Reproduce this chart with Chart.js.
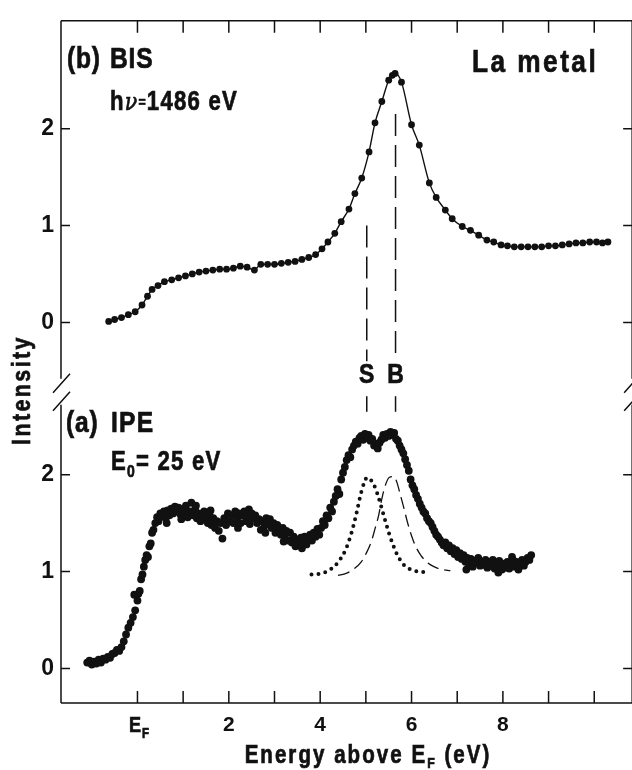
<!DOCTYPE html>
<html>
<head>
<meta charset="utf-8">
<script src="https://cdn.jsdelivr.net/npm/chart.js@4.4.1/dist/chart.umd.min.js"></script>
<style>
  html, body { margin: 0; padding: 0; background: #fff; }
</style>
</head>
<body>
<canvas id="chart" width="632" height="770"></canvas>
<script>
// ---- axes ----
const xTickValues = [0, 1, 2, 3, 4, 5, 6, 7, 8, 9, 10];
const xTickLabels = ['', '', '2', '', '4', '', '6', '', '8', '', ''];   // 0 is E_F, drawn by hand

// both panels share one y axis, BIS is lifted by BIS_OFFSET
const BIS_OFFSET = 3.571;
const yTickValues = [0, 1, 2, BIS_OFFSET, BIS_OFFSET + 1, BIS_OFFSET + 2];
const yTickLabels = ['0', '1', '2', '0', '1', '2'];

// ---- (b) BIS, hv = 1486 eV : [energy, intensity] ----
const bisPoints = [
  [-0.63,0.01],[-0.50,0.03],[-0.35,0.05],[-0.20,0.08],[-0.05,0.11],[0.10,0.18],[0.22,0.27],
  [0.32,0.34],[0.45,0.38],[0.59,0.42],[0.75,0.44],[0.90,0.46],[1.05,0.48],[1.20,0.50],
  [1.35,0.52],[1.50,0.53],[1.65,0.54],[1.80,0.55],[1.95,0.55],[2.10,0.56],[2.25,0.58],
  [2.40,0.57],[2.56,0.54],[2.70,0.60],[2.85,0.60],[3.00,0.60],[3.15,0.61],[3.30,0.62],
  [3.45,0.63],[3.60,0.65],[3.75,0.67],[3.90,0.70],[4.04,0.76],[4.17,0.83],[4.32,0.92],
  [4.46,1.04],[4.63,1.17],[4.76,1.33],[4.91,1.49],[5.07,1.76],[5.20,2.06],[5.35,2.28],
  [5.50,2.50],[5.58,2.55],[5.64,2.57],[5.78,2.48],[6.00,2.04],[6.17,1.83],[6.39,1.44],
  [6.54,1.29],[6.74,1.16],[6.89,1.07],[7.11,0.99],[7.29,0.95],[7.47,0.90],[7.65,0.85],
  [7.80,0.83],[7.96,0.80],[8.10,0.79],[8.25,0.78],[8.40,0.78],[8.55,0.78],[8.70,0.78],
  [8.85,0.78],[9.00,0.79],[9.15,0.79],[9.30,0.80],[9.45,0.81],[9.60,0.82],[9.75,0.82],
  [9.90,0.83],[10.05,0.83],[10.18,0.82],[10.30,0.83]
];

// ---- (a) IPE, E0 = 25 eV : [energy, intensity] ----
const ipePoints = [
  [-1.10,0.06],[-1.05,0.08],[-1.00,0.04],[-0.95,0.07],[-0.90,0.05],[-0.85,0.09],[-0.80,0.06],
  [-0.75,0.10],[-0.70,0.09],[-0.65,0.12],[-0.60,0.11],[-0.55,0.15],[-0.50,0.16],[-0.45,0.19],
  [-0.40,0.18],[-0.35,0.22],[-0.30,0.28],[-0.25,0.35],[-0.20,0.42],[-0.15,0.47],[-0.10,0.53],
  [-0.07,0.76],[-0.05,0.60],[0.00,0.70],[0.02,0.77],[0.05,0.80],[0.08,0.92],[0.11,0.97],
  [0.14,1.05],[0.17,1.12],[0.20,1.17],[0.23,1.15],[0.26,1.26],[0.29,1.29],[0.32,1.40],
  [0.35,1.43],[0.39,1.50],[0.43,1.56],[0.46,1.52],[0.50,1.60],[0.54,1.57],[0.58,1.62],
  [0.62,1.55],[0.64,1.50],[0.66,1.63],[0.70,1.58],[0.74,1.65],[0.78,1.60],[0.82,1.67],
  [0.86,1.62],[0.90,1.66],[0.94,1.59],[0.96,1.54],[0.98,1.64],[1.02,1.60],[1.06,1.68],
  [1.10,1.56],[1.14,1.62],[1.18,1.71],[1.22,1.58],[1.26,1.64],[1.28,1.68],[1.30,1.55],
  [1.34,1.60],[1.38,1.52],[1.42,1.58],[1.46,1.62],[1.50,1.54],[1.54,1.50],[1.58,1.57],
  [1.60,1.63],[1.62,1.48],[1.66,1.55],[1.70,1.45],[1.74,1.52],[1.78,1.42],[1.82,1.50],
  [1.86,1.34],[1.90,1.55],[1.94,1.48],[1.98,1.60],[2.02,1.52],[2.06,1.58],[2.10,1.50],
  [2.14,1.62],[2.18,1.55],[2.20,1.45],[2.22,1.60],[2.26,1.50],[2.30,1.58],[2.34,1.62],
  [2.38,1.52],[2.42,1.57],[2.44,1.64],[2.46,1.49],[2.50,1.60],[2.54,1.55],[2.58,1.58],
  [2.62,1.50],[2.66,1.54],[2.70,1.43],[2.74,1.52],[2.78,1.47],[2.80,1.40],[2.82,1.55],
  [2.86,1.49],[2.90,1.54],[2.94,1.45],[2.98,1.50],[3.02,1.40],[3.06,1.48],[3.10,1.44],
  [3.14,1.38],[3.18,1.45],[3.20,1.31],[3.22,1.36],[3.26,1.42],[3.30,1.32],[3.34,1.40],
  [3.38,1.30],[3.42,1.36],[3.46,1.26],[3.50,1.33],[3.54,1.28],[3.58,1.35],[3.60,1.24],
  [3.62,1.30],[3.66,1.36],[3.70,1.28],[3.74,1.33],[3.78,1.38],[3.82,1.32],[3.86,1.40],
  [3.90,1.36],[3.94,1.44],[3.98,1.38],[4.02,1.45],[4.06,1.52],[4.10,1.48],[4.14,1.58],
  [4.18,1.55],[4.22,1.66],[4.26,1.62],[4.30,1.72],[4.34,1.78],[4.38,1.85],[4.42,1.80],
  [4.46,1.95],[4.50,2.02],[4.54,2.08],[4.58,2.15],[4.62,2.20],[4.66,2.18],[4.70,2.26],
  [4.74,2.30],[4.78,2.34],[4.82,2.32],[4.86,2.38],[4.90,2.40],[4.94,2.36],[4.98,2.42],
  [5.02,2.38],[5.06,2.41],[5.10,2.35],[5.14,2.37],[5.18,2.30],[5.22,2.32],[5.26,2.27],
  [5.30,2.33],[5.34,2.36],[5.38,2.41],[5.42,2.38],[5.46,2.42],[5.50,2.40],[5.54,2.44],
  [5.58,2.41],[5.62,2.43],[5.66,2.37],[5.70,2.35],[5.74,2.30],[5.78,2.26],[5.82,2.22],
  [5.86,2.16],[5.90,2.10],[5.94,2.04],[5.98,1.95],[6.02,1.89],[6.06,1.85],[6.10,1.79],
  [6.14,1.75],[6.18,1.70],[6.22,1.66],[6.26,1.62],[6.30,1.60],[6.34,1.55],[6.38,1.52],
  [6.42,1.50],[6.46,1.46],[6.50,1.42],[6.54,1.38],[6.58,1.36],[6.62,1.33],[6.66,1.30],
  [6.70,1.27],[6.74,1.30],[6.78,1.24],[6.82,1.27],[6.86,1.21],[6.90,1.24],[6.94,1.18],
  [6.98,1.22],[7.02,1.15],[7.06,1.19],[7.10,1.13],[7.14,1.17],[7.18,1.10],[7.20,1.02],
  [7.22,1.14],[7.26,1.08],[7.30,1.13],[7.34,1.05],[7.38,1.11],[7.42,1.09],[7.46,1.14],
  [7.50,1.06],[7.54,1.10],[7.58,1.07],[7.62,1.12],[7.66,1.04],[7.70,1.10],[7.74,1.06],
  [7.78,1.12],[7.82,1.03],[7.86,1.09],[7.90,0.99],[7.92,1.11],[7.94,1.05],[7.98,1.02],
  [8.02,1.08],[8.06,1.04],[8.10,1.10],[8.14,1.03],[8.18,1.08],[8.20,1.15],[8.22,1.12],
  [8.26,1.05],[8.30,1.10],[8.34,1.02],[8.38,1.08],[8.42,1.12],[8.46,1.06],[8.50,1.10],
  [8.54,1.14],[8.58,1.12],[8.62,1.17]
];

// surface (S, dotted) and bulk (B, dashed) components of the IPE peak
const sComponent = [
  [3.81,0.97],[4.03,0.98],[4.25,1.03],[4.43,1.12],[4.57,1.24],[4.68,1.39],[4.79,1.59],
  [4.90,1.82],[5.03,1.97],[5.19,1.88],[5.30,1.73],[5.39,1.58],[5.51,1.39],[5.66,1.20],
  [5.83,1.07],[6.06,1.01],[6.36,0.99]
];
const bComponent = [
  [4.39,0.96],[4.57,0.98],[4.75,1.03],[4.90,1.10],[5.01,1.19],[5.12,1.31],[5.20,1.44],
  [5.28,1.58],[5.35,1.75],[5.42,1.88],[5.51,1.97],[5.61,1.98],[5.68,1.92],[5.75,1.80],
  [5.83,1.66],[5.91,1.51],[6.00,1.37],[6.09,1.26],[6.20,1.17],[6.33,1.10],[6.49,1.05],
  [6.67,1.02],[6.85,1.01]
];

// S and B peak markers (vertical dashed lines), on the shared y axis
const markerEnergy = [5.02, 5.65];
const markerTop = [BIS_OFFSET + 1.0, BIS_OFFSET + 2.15];
const markerGap = [3.17, 2.81];   // gap left for the S / B letters
const markerBottom = 2.65;

const X_MIN = -1.674, X_MAX = 10.739, RIGHT_AXIS = 10.83;
const Y_MIN = -0.357, Y_MAX = 6.684;
const BREAK_HI = 2.99, BREAK_LO = 2.72;

const FONT = '"Liberation Sans", Arial, Helvetica, sans-serif';
const INK = '#111';
const NARROW = 0.82;   // horizontal squeeze to get a condensed face
function fnt(size, style = 'bold') { return `${style} ${size}px ${FONT}`; }

const toXY = (pts, off = 0) => pts.map(([e, v]) => ({ x: e, y: v + off }));

function markerData(i) {
  const e = markerEnergy[i];
  return [
    { x: e, y: markerTop[i] }, { x: e, y: markerGap[0] }, { x: e, y: null },
    { x: e, y: markerGap[1] }, { x: e, y: markerBottom }
  ];
}

// text made of runs (for sub/superscripts), squeezed horizontally, slightly heavier
function drawRich(ctx, parts, x, y, align, spacing, sx = NARROW) {
  ctx.save();
  ctx.letterSpacing = (spacing || 0) + 'px';
  let w = 0;
  parts.forEach(p => { ctx.font = p.font; p.w = ctx.measureText(p.t).width; w += p.w; });
  const start = align === 'center' ? x - w * sx / 2 : align === 'right' ? x - w * sx : x;
  ctx.translate(start, y);
  ctx.scale(sx, 1);
  ctx.textAlign = 'left';
  ctx.textBaseline = 'alphabetic';
  ctx.lineWidth = 0.7;
  ctx.strokeStyle = INK;
  let cx = 0;
  parts.forEach(p => {
    ctx.font = p.font;
    ctx.fillText(p.t, cx, p.dy || 0);
    ctx.strokeText(p.t, cx, p.dy || 0);
    cx += p.w;
  });
  ctx.restore();
}

// frame, inward ticks, axis break and the annotations
const decor = {
  id: 'decor',
  afterDraw(chart) {
    const { ctx, chartArea: a, scales: { x, y } } = chart;
    const rx = x.getPixelForValue(RIGHT_AXIS);
    const bHi = y.getPixelForValue(BREAK_HI), bLo = y.getPixelForValue(BREAK_LO);
    ctx.save();
    ctx.strokeStyle = INK;
    ctx.fillStyle = INK;
    ctx.lineWidth = 1.5;
    ctx.beginPath();
    ctx.moveTo(a.left, a.top); ctx.lineTo(rx, a.top);
    ctx.moveTo(a.left, a.bottom); ctx.lineTo(rx, a.bottom);
    [a.left, rx].forEach(px => {
      ctx.moveTo(px, a.top); ctx.lineTo(px, bHi);
      ctx.moveTo(px, bLo); ctx.lineTo(px, a.bottom);
      // break marks
      ctx.moveTo(px - 8, bHi + 14); ctx.lineTo(px + 9, bHi - 5);
      ctx.moveTo(px - 8, bLo + 6); ctx.lineTo(px + 9, bLo - 13);
    });
    xTickValues.forEach(v => {
      const px = x.getPixelForValue(v);
      ctx.moveTo(px, a.bottom); ctx.lineTo(px, a.bottom - 12);
      ctx.moveTo(px, a.top); ctx.lineTo(px, a.top + 12);
    });
    yTickValues.forEach(v => {
      const py = y.getPixelForValue(v);
      ctx.moveTo(a.left, py); ctx.lineTo(a.left + 9, py);
      ctx.moveTo(rx, py); ctx.lineTo(rx - 9, py);
    });
    ctx.stroke();

    // E_F tick label
    const x0 = x.getPixelForValue(0);
    drawRich(ctx, [{ t: 'E', font: fnt(22) }, { t: 'F', font: fnt(14), dy: 6 }], x0 + 2, 732, 'center', 1);

    // axis titles
    drawRich(ctx, [
      { t: 'Energy above E', font: fnt(25) }, { t: 'F', font: fnt(15), dy: 5 },
      { t: ' (eV)', font: fnt(25) }
    ], 368, 763, 'center', 2.5);
    ctx.save();
    ctx.translate(21, 390);
    ctx.rotate(-Math.PI / 2);
    drawRich(ctx, [{ t: 'Intensity', font: fnt(26) }], 0, 9, 'center', 3);
    ctx.restore();

    // panel labels
    drawRich(ctx, [{ t: '(b)', font: fnt(30) }], 67, 68, 'left', 1);
    drawRich(ctx, [{ t: 'BIS', font: fnt(30) }], 110, 68, 'left', 1);
    drawRich(ctx, [
      { t: 'h', font: fnt(27) }, { t: 'ν', font: 'italic 25px "DejaVu Serif", serif' },
      { t: '=', font: fnt(15), dy: -3 }, { t: '1486 eV', font: fnt(27) }
    ], 110, 110, 'left', 1.5);
    drawRich(ctx, [{ t: 'La metal', font: fnt(32) }], 472, 72, 'left', 3);
    drawRich(ctx, [{ t: '(a)', font: fnt(30) }], 66, 432, 'left', 1);
    drawRich(ctx, [{ t: 'IPE', font: fnt(30) }], 111, 432, 'left', 1.5);
    drawRich(ctx, [
      { t: 'E', font: fnt(27) }, { t: '0', font: fnt(17), dy: 7 }, { t: '= 25 eV', font: fnt(27) }
    ], 111, 470, 'left', 1.5);
    drawRich(ctx, [{ t: 'S', font: fnt(28) }], x.getPixelForValue(markerEnergy[0]), 383, 'center', 0);
    drawRich(ctx, [{ t: 'B', font: fnt(28) }], x.getPixelForValue(markerEnergy[1]), 383, 'center', 0);
    ctx.restore();
  }
};

const dots = r => ({ showLine: false, pointRadius: r, pointBackgroundColor: INK, pointBorderWidth: 0, borderColor: INK });
const line = (w, dash, extra) => Object.assign({
  showLine: true, pointRadius: 0, borderColor: INK, borderWidth: w, borderDash: dash, fill: false
}, extra || {});

new Chart(document.getElementById('chart'), {
  type: 'scatter',
  data: {
    datasets: [
      Object.assign({ label: 'BIS', data: toXY(bisPoints, BIS_OFFSET) }, dots(3.4)),
      Object.assign({ label: 'BIS fit', data: toXY(bisPoints, BIS_OFFSET) }, line(1.4, [], { cubicInterpolationMode: 'monotone' })),
      Object.assign({ label: 'IPE', data: toXY(ipePoints) }, dots(3.9)),
      Object.assign({ label: 'S', data: toXY(sComponent) }, line(4, [0, 7], { borderCapStyle: 'round', cubicInterpolationMode: 'monotone' })),
      Object.assign({ label: 'B', data: toXY(bComponent) }, line(1.3, [12, 6], { cubicInterpolationMode: 'monotone' })),
      Object.assign({ label: 'S line', data: markerData(0) }, line(1.5, [22, 9])),
      Object.assign({ label: 'B line', data: markerData(1) }, line(1.5, [22, 9]))
    ]
  },
  options: {
    responsive: false,
    animation: false,
    layout: { padding: { top: 13, right: 0, left: 0, bottom: 0 } },
    plugins: { legend: { display: false }, tooltip: { enabled: false } },
    scales: {
      x: {
        type: 'linear', min: X_MIN, max: X_MAX,
        afterBuildTicks: axis => { axis.ticks = xTickValues.map(v => ({ value: v })); },
        afterFit: axis => { axis.height = 67; },
        grid: { display: false, drawTicks: false },
        border: { display: false },
        ticks: {
          autoSkip: false, maxRotation: 0, padding: 10, color: INK,
          font: { family: FONT, size: 21, weight: 'bold' },
          callback: (v, i) => xTickLabels[i]
        }
      },
      y: {
        type: 'linear', min: Y_MIN, max: Y_MAX,
        afterBuildTicks: axis => { axis.ticks = yTickValues.map(v => ({ value: v })); },
        afterFit: axis => { axis.width = 61; },
        grid: { display: false, drawTicks: false },
        border: { display: false },
        ticks: {
          padding: 7, color: INK,
          font: { family: FONT, size: 23, weight: 'bold' },
          callback: (v, i) => yTickLabels[i]
        }
      }
    }
  },
  plugins: [decor]
});
</script>
</body>
</html>
